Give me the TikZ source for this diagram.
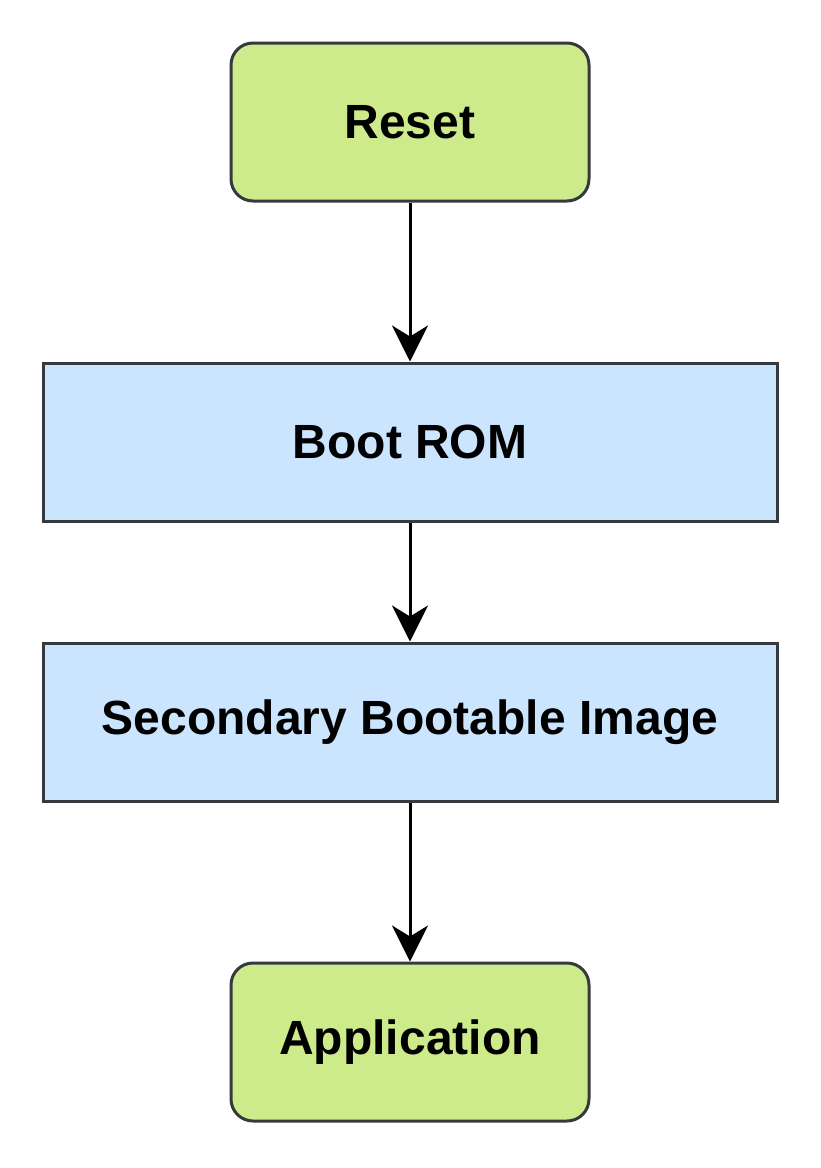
\documentclass[tikz,border=0pt]{standalone}
\usepackage{fontspec}
\setmainfont{Liberation Sans}
\usetikzlibrary{arrows.meta}

\definecolor{stepgreen}{HTML}{CDEB8B}
\definecolor{stepblue}{HTML}{CCE5FF}
\definecolor{stepline}{HTML}{36393D}

\begin{document}
\begin{tikzpicture}[x=1pt, y=-1pt,
    state/.style={draw=stepline, line width=3pt, fill=stepgreen, rounded corners=22pt,
        minimum width=358pt, minimum height=158pt, font=\fontsize{48}{56}\selectfont\bfseries},
    stage/.style={draw=stepline, line width=3pt, fill=stepblue,
        minimum width=734pt, minimum height=158pt, font=\fontsize{48}{56}\selectfont\bfseries},
    flow/.style={line width=3pt, -{Stealth[length=36pt, width=36pt, inset=11pt]}}]
    \useasboundingbox (0,0) rectangle (820,1168);

    % Boxes
    \node[state] (reset) at (410,122) {Reset};
    \node[stage] (bootrom) at (410,442) {Boot ROM};
    \node[stage] (sbi) at (410,722) {Secondary Bootable Image};
    \node[state] (app) at (410,1042) {Application};

    % Arrows
    \draw[flow] (reset) -- (bootrom);
    \draw[flow] (bootrom) -- (sbi);
    \draw[flow] (sbi) -- (app);
\end{tikzpicture}
\end{document}
